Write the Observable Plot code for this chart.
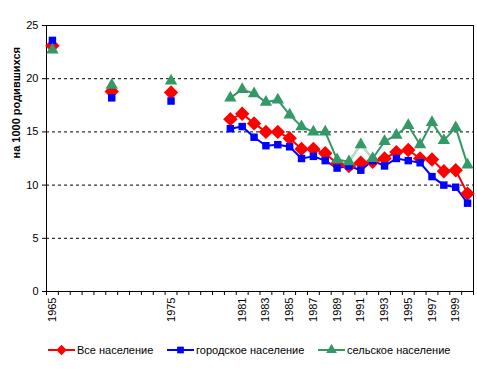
<!DOCTYPE html>
<html><head><meta charset="utf-8">
<script src="https://cdn.jsdelivr.net/npm/d3@7"></script>
<script src="https://cdn.jsdelivr.net/npm/@observablehq/plot@0.6"></script>
<style>
body{margin:0;background:#fff;font-family:"Liberation Sans",Arial,sans-serif;}
#chart svg{display:block;}
#legend{position:relative;width:477px;height:36px;font-size:11px;color:#000;}
.item{position:absolute;top:9px;display:flex;align-items:center;white-space:nowrap;}
.item svg{margin-right:2px;}
</style>
</head><body>
<div id="chart"></div>
<div id="legend"></div>
<script>
const years = [1965,1966,1967,1968,1969,1970,1971,1972,1973,1974,1975,1976,1977,1978,1979,
  1980,1981,1982,1983,1984,1985,1986,1987,1988,1989,1990,1991,1992,1993,1994,1995,1996,1997,1998,1999,2000];
const allPop = [23.1,null,null,null,null,18.8,null,null,null,null,18.7,null,null,null,null,
  16.2,16.7,15.8,15.0,15.0,14.4,13.4,13.4,13.0,12.0,11.8,12.1,12.2,12.5,13.1,13.3,12.5,12.4,11.3,11.4,9.2];
const urban = [23.6,null,null,null,null,18.2,null,null,null,null,17.9,null,null,null,null,
  15.3,15.5,14.5,13.7,13.8,13.6,12.5,12.7,12.3,11.6,11.8,11.4,12.3,11.8,12.5,12.3,12.1,10.8,10.0,9.8,8.3];
const rural = [22.7,null,null,null,null,19.4,null,null,null,null,19.8,null,null,null,null,
  18.2,19.0,18.6,17.8,18.0,16.6,15.5,15.0,15.0,12.4,12.2,13.8,12.5,14.1,14.7,15.6,13.8,15.9,14.2,15.4,11.9];
const xTickLabels = [1965,1975,1981,1983,1985,1987,1989,1991,1993,1995,1997,1999];
const yTicks = [0,5,10,15,20,25];
const gridValues = [5,10,15,20];
const seriesNames = ["Все население","городское население","сельское население"];
const colors = ["#FF0000","#0000FF","#339966"];
const symbols = ["diamond2","square","triangle"];
const radii = [6.5,4.2,4.6];
const yLabel = "на 1000 родившихся";
const dottedYears = [1990, 1992]; // range of the rural line drawn hatched in the original

const seriesVals = [allPop, urban, rural];
const rows = [];
seriesVals.forEach((vals, s) => years.forEach((yr, i) => rows.push({year: yr, value: vals[i], s})));
const boundaries = years.map(y => y - 0.5).concat([years[years.length-1] + 0.5]);

const marks = [
  Plot.ruleY(gridValues, {stroke: "#000", strokeDasharray: "3,3", strokeWidth: 1}),
  Plot.frame({stroke: "#000", strokeWidth: 1}),
  Plot.axisY({ticks: yTicks, tickSize: 4, tickPadding: 4, fontSize: 11, label: null}),
  Plot.axisX({ticks: boundaries, tickSize: 4, tickFormat: () => "", label: null}),
  Plot.axisX({ticks: xTickLabels, tickSize: 0, tickRotate: -90, tickPadding: 6, fontSize: 11, tickFormat: d => String(d), label: null}),
  Plot.text([yLabel], {frameAnchor: "left", rotate: -90, dx: -30, fontWeight: "bold", fontSize: 11})
];
seriesVals.forEach((vals, s) => {
  const data = rows.filter(r => r.s === s);
  marks.push(Plot.line(data, {x: "year", y: "value", stroke: colors[s], strokeWidth: 2}));
});
marks.push(Plot.line(rows.filter(r => r.s === 2 && r.year >= dottedYears[0] && r.year <= dottedYears[1]),
  {x: "year", y: "value", stroke: "#fff", strokeWidth: 2, strokeDasharray: "1,1", strokeOpacity: 0.7}));
seriesVals.forEach((vals, s) => {
  const data = rows.filter(r => r.s === s && r.value != null);
  marks.push(Plot.dot(data, {x: "year", y: "value", symbol: () => symbols[s], fill: colors[s], stroke: "none", r: radii[s]}));
});

const chart = Plot.plot({
  width: 477, height: 335,
  marginLeft: 46, marginRight: 4, marginTop: 25, marginBottom: 44,
  style: {fontFamily: "'Liberation Sans', Arial, sans-serif", fontSize: "11px", color: "#000", background: "#fff"},
  x: {type: "linear", domain: [1964.5, 2000.5], axis: null},
  y: {domain: [0, 25], axis: null},
  symbol: {type: "identity"},
  marks
});
document.getElementById("chart").appendChild(chart);

// Legend
const legend = document.getElementById("legend");
const lefts = [48, 167, 318];
const legSym = [d3.symbolDiamond2, d3.symbolSquare, d3.symbolTriangle];
const legSize = [70, 45, 50];
seriesNames.forEach((name, i) => {
  const item = document.createElement("div");
  item.className = "item";
  item.style.left = lefts[i] + "px";
  const svg = d3.create("svg").attr("width", 27).attr("height", 12);
  svg.append("line").attr("x1", 0).attr("x2", 27).attr("y1", 6).attr("y2", 6).attr("stroke", colors[i]).attr("stroke-width", 2);
  svg.append("path").attr("d", d3.symbol(legSym[i], legSize[i])()).attr("transform", "translate(13.5,6)").attr("fill", colors[i]);
  item.appendChild(svg.node());
  const span = document.createElement("span");
  span.textContent = name;
  item.appendChild(span);
  legend.appendChild(item);
});
</script>
</body></html>
